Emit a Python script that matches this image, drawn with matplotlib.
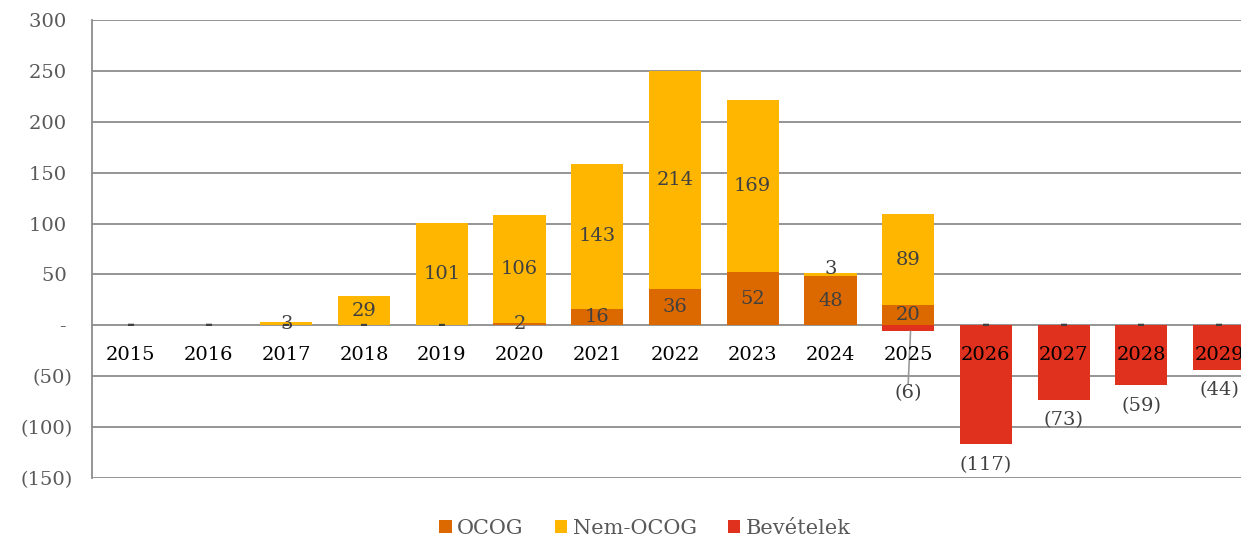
import numpy as np
import matplotlib
matplotlib.use('Agg')
import matplotlib.pyplot as plt

plt.rcParams['font.family'] = ['DejaVu Serif']

# chart data
years = ['2015', '2016', '2017', '2018', '2019', '2020', '2021', '2022',
         '2023', '2024', '2025', '2026', '2027', '2028', '2029']
ocog = [0, 0, 0, 0, 0, 2, 16, 36, 52, 48, 20, 0, 0, 0, 0]
nem_ocog = [0, 0, 3, 29, 101, 106, 143, 214, 169, 3, 89, 0, 0, 0, 0]
bevetelek = [0, 0, 0, 0, 0, 0, 0, 0, 0, 0, -6, -117, -73, -59, -44]
yticks = [-150, -100, -50, 0, 50, 100, 150, 200, 250, 300]

c_ocog = '#DC6900'
c_nem = '#FFB600'
c_bev = '#E0301E'
lab_col = '#404040'
grid_col = '#8c8c8c'


def fmt(v):
    # excel-style accounting format: zero -> "-", negatives in brackets
    if v == 0:
        return '-'
    if v < 0:
        return '(%d)' % (-v)
    return '%d' % v


def put_label(xp, yp, v):
    ax.text(xp, yp, fmt(v), ha='center', va='center', fontsize=14,
            color=lab_col, zorder=4,
            fontweight='bold' if v == 0 else 'normal')


fig = plt.figure(figsize=(12.41, 5.39), dpi=100)
ax = fig.add_axes([92/1241, 1-478/539, 1166/1241, 458/539])

x = np.arange(len(years))
w = 0.67
ocog = np.array(ocog)
nem_ocog = np.array(nem_ocog)
bevetelek = np.array(bevetelek)

ax.bar(x, ocog, w, color=c_ocog, label='OCOG', zorder=2)
ax.bar(x, nem_ocog, w, bottom=ocog, color=c_nem, label='Nem-OCOG', zorder=2)
ax.bar(x, bevetelek, w, color=c_bev, label='Bevételek', zorder=2)

ax.set_xlim(-0.5, len(years) - 0.5)
ax.set_ylim(-150, 300)
ax.set_yticks(yticks)
ax.set_yticklabels([fmt(v) + ('' if v < 0 else ' ') for v in yticks],
                   fontsize=14, color='#595959')
ax.tick_params(axis='y', length=0, pad=14)
ax.set_xticks([])
ax.grid(axis='y', color=grid_col, linewidth=1.3, zorder=0)
ax.set_axisbelow(True)
for s in ['top', 'right', 'bottom']:
    ax.spines[s].set_visible(False)
ax.spines['left'].set_color(grid_col)
ax.spines['left'].set_linewidth(1.3)

# segment labels
for i in range(len(years)):
    put_label(x[i], ocog[i] / 2, ocog[i])
    ny = ocog[i] + nem_ocog[i] / 2
    if i == 9:
        ny += 6
    put_label(x[i], ny, nem_ocog[i])
    if bevetelek[i] < -10:
        put_label(x[i], bevetelek[i] - 20, bevetelek[i])
    elif bevetelek[i] < 0:
        ax.text(x[i], -67, fmt(bevetelek[i]), ha='center', va='center',
                fontsize=14, color=lab_col, zorder=4)
        # leader line from the bar end down to the label
        ax.plot([x[i] + 0.03, x[i]], [bevetelek[i], -57], color='#9a9a9a',
                lw=1.2, zorder=3)
    # category labels sit just under the zero line
    ax.text(x[i], -29.5, years[i], ha='center', va='center', fontsize=14,
            color='black', zorder=5)

fig.legend(loc='center', bbox_to_anchor=(645/1241, 1-528/539), ncol=3,
           frameon=False, fontsize=15, handlelength=0.6, handleheight=0.6,
           handletextpad=0.25, columnspacing=1.5, labelcolor='#595959')

fig.savefig('out.png', dpi=100)
